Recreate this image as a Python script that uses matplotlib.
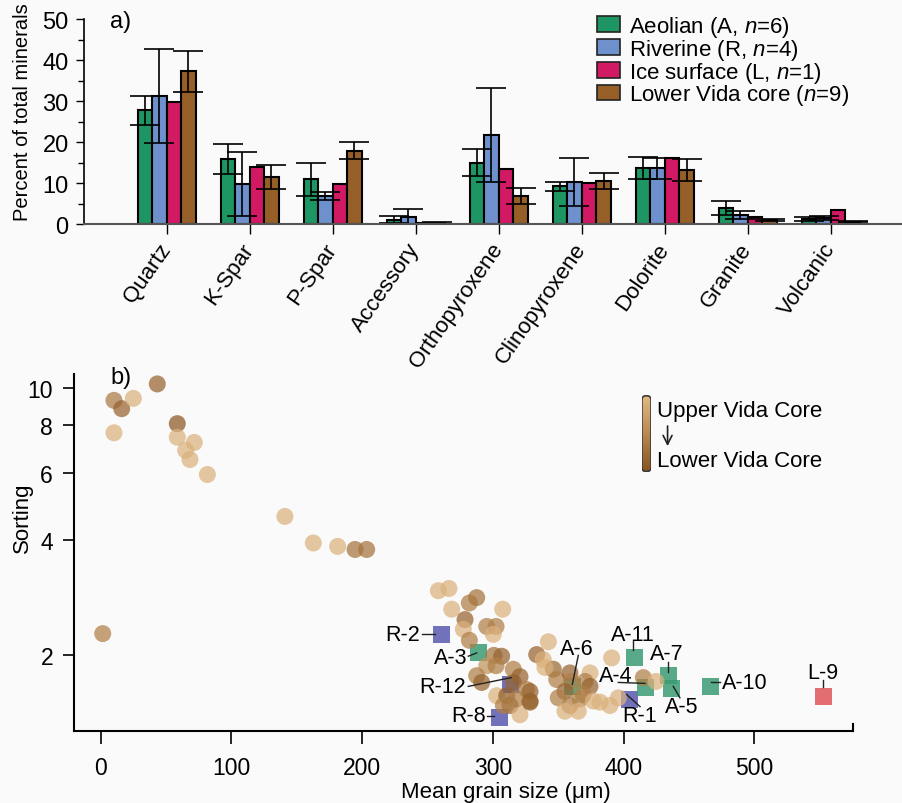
import numpy as np
import matplotlib
matplotlib.use('Agg')
import matplotlib.pyplot as plt
from matplotlib.colors import LinearSegmentedColormap
from matplotlib.patches import FancyBboxPatch
from matplotlib.ticker import NullLocator, MultipleLocator

plt.rcParams['font.family'] = ['Liberation Sans', 'DejaVu Sans']
plt.rcParams['font.size'] = 16
plt.rcParams['mathtext.fontset'] = 'custom'
plt.rcParams['mathtext.rm'] = 'Liberation Sans'
plt.rcParams['mathtext.it'] = 'Liberation Sans:italic'

# ---- a) mineral composition ----
minerals = ['Quartz', 'K-Spar', 'P-Spar', 'Accessory', 'Orthopyroxene',
            'Clinopyroxene', 'Dolorite', 'Granite', 'Volcanic']
group_names = [r'Aeolian (A, $\mathit{n}$=$\mathit{6}$)',
               r'Riverine (R, $\mathit{n}$=$\mathit{4}$)',
               r'Ice surface (L, $\mathit{n}$=$\mathit{1}$)',
               r'Lower Vida core ($\mathit{n}$=$\mathit{9}$)']
aeolian = [27.7, 15.8, 10.9, 1.1, 15.0, 9.2, 13.6, 3.8, 1.2]
aeolian_err = [3.6, 3.6, 4.1, 0.8, 3.3, 1.1, 2.7, 1.7, 0.4]
riverine = [31.3, 9.7, 6.8, 1.8, 21.7, 10.2, 13.6, 2.2, 1.4]
riverine_err = [11.5, 7.8, 1.0, 1.8, 11.4, 5.8, 2.6, 0.9, 0.5]
ice_surface = [29.8, 13.8, 9.8, 0.3, 13.4, 10.0, 16.0, 1.7, 3.4]
lower_core = [37.3, 11.5, 17.9, 0.3, 6.9, 10.5, 13.2, 1.0, 0.6]
lower_core_err = [5.0, 3.0, 2.0, 0.2, 2.0, 2.0, 2.7, 0.3, 0.2]

bar_colors = ['#1e9664', '#6e91cd', '#d21a64', '#965f28']

# ---- b) grain size vs sorting ----
core_size = [1.7, 10.3, 16.2, 25.1, 10.3, 43.4, 58.7, 58.7, 71.7, 65.1, 68.4, 81.7,
             141.0, 162.7, 181.3, 194.6, 203.5,
             258.3, 266.4, 268.5, 282.0, 287.6, 278.7, 277.4, 307.5, 295.3, 302.4,
             300.3, 282.0, 300.8, 306.7, 295.3, 302.4, 315.6, 320.7, 287.6, 291.4,
             302.9, 310.6, 315.6, 325.8, 328.4, 313.1, 308.0, 320.7, 318.2,
             342.4, 333.5, 338.5, 346.2, 339.8, 348.8, 358.9, 360.2, 355.1, 374.2,
             370.4, 374.2, 369.1, 350.0, 358.9, 366.6, 376.8, 381.9, 365.3, 390.8,
             389.5, 395.9, 328.4, 328.4, 415.0, 424.7, 355.1]
core_sorting = [2.28, 9.26, 8.81, 9.37, 7.62, 10.22, 8.05, 7.42, 7.19, 6.86, 6.49, 5.93,
                4.61, 3.93, 3.85, 3.78, 3.78,
                2.95, 2.99, 2.64, 2.74, 2.83, 2.48, 2.34, 2.64, 2.38, 2.38,
                2.27, 2.19, 2.00, 1.99, 1.88, 1.88, 1.84, 1.76, 1.77, 1.70,
                1.57, 1.57, 1.70, 1.63, 1.52, 1.48, 1.48, 1.40, 1.54,
                2.17, 2.01, 1.95, 1.84, 1.86, 1.73, 1.80, 1.71, 1.61, 1.80,
                1.71, 1.66, 1.58, 1.55, 1.48, 1.54, 1.52, 1.51, 1.43, 1.97,
                1.48, 1.55, 1.61, 1.51, 1.75, 1.71, 1.43]
# 0 = top of core, 1 = bottom of core
core_depth = [0.6, 0.65, 0.85, 0.1, 0.1, 0.85, 0.95, 0.1, 0.1, 0.1, 0.1, 0.1,
              0.1, 0.1, 0.1, 0.7, 0.7,
              0.1, 0.1, 0.1, 0.6, 0.7, 0.85, 0.1, 0.1, 0.6, 0.6,
              0.1, 0.6, 0.7, 0.85, 0.4, 0.6, 0.6, 0.85, 0.6, 0.85,
              0.1, 0.9, 0.85, 0.6, 0.85, 0.9, 0.6, 0.1, 0.6,
              0.1, 0.85, 0.1, 0.8, 0.1, 0.6, 0.85, 0.6, 0.85, 0.1,
              0.6, 0.85, 0.6, 0.6, 0.6, 0.6, 0.1, 0.1, 0.1, 0.1,
              0.1, 0.1, 0.85, 0.85, 0.6, 0.1, 0.1]

sample_names = ['R-2', 'R-12', 'R-8', 'R-1',
                'A-3', 'A-6', 'A-11', 'A-7', 'A-4', 'A-5', 'A-10', 'L-9']
sample_size = [260.9, 313.1, 305.4, 404.1,
               288.8, 361.0, 407.9, 434.1, 416.3, 436.9, 466.0, 553.1]
sample_sorting = [2.27, 1.68, 1.38, 1.53,
                  2.03, 1.66, 1.97, 1.77, 1.65, 1.64, 1.66, 1.56]
sample_colors = {'R': '#5a5ab0', 'A': '#3a9b73', 'L': '#e0555a'}

# label placement: text anchor, alignment, leader line ends
label_layout = {
    'R-2': ((244, 2.27), 'right', [(246, 2.27), (256, 2.27)]),
    'A-3': ((280.5, 1.97), 'right', [(281.2, 1.99), (287.6, 2.03)]),
    'R-12': ((279.5, 1.66), 'right', [(281.2, 1.66), (314.0, 1.75)]),
    'R-8': ((294.5, 1.395), 'right', [(295.5, 1.39), (301.0, 1.39)]),
    'A-6': ((364.0, 2.08), 'center', [(365.3, 2.0), (360.7, 1.68)]),
    'A-11': ((407.3, 2.27), 'center', [(407.3, 2.19), (407.3, 2.07)]),
    'A-7': ((432.9, 2.02), 'center', [(434.0, 1.92), (434.0, 1.81)]),
    'A-4': ((393.9, 1.77), 'center', [(395.9, 1.70), (416.3, 1.69)]),
    'A-5': ((444.3, 1.47), 'center', [(437.9, 1.66), (443.0, 1.55)]),
    'A-10': ((474.9, 1.70), 'left', [(466.5, 1.70), (473.6, 1.70)]),
    'R-1': ((412.5, 1.39), 'center', [(402.3, 1.58), (412.5, 1.47)]),
    'L-9': ((552.1, 1.80), 'center', [(552.1, 1.72), (552.1, 1.65)]),
}

bg = '#fafafa'
fig = plt.figure(figsize=(9.03, 8.04), dpi=100, facecolor=bg)

# ================= panel a =================
ax1 = fig.add_axes([0.093, 0.7201, 0.907, 0.255])
ax1.set_facecolor(bg)
x = np.arange(len(minerals))
w = 0.175
series = [(aeolian, aeolian_err), (riverine, riverine_err),
          (ice_surface, None), (lower_core, lower_core_err)]
for i, (vals, err) in enumerate(series):
    ax1.bar(x + (i - 1.5) * w, vals, w, yerr=err, color=bar_colors[i],
            edgecolor='black', linewidth=1.5, label=group_names[i],
            error_kw=dict(ecolor='black', elinewidth=1.2, capsize=11, capthick=1.2),
            zorder=2)

ax1.set_xlim(-0.996, 8.87)
ax1.set_ylim(0, 50)
ax1.yaxis.set_major_locator(MultipleLocator(10))
ax1.yaxis.set_minor_locator(MultipleLocator(5))
ax1.set_xticks(x)
ax1.set_xticklabels(minerals, rotation=55, ha='right', va='center',
                    rotation_mode='anchor', fontsize=16)
ax1.tick_params(axis='y', which='major', length=6, width=1, pad=5, labelsize=17)
ax1.tick_params(axis='y', which='minor', length=4, width=1)
ax1.tick_params(axis='x', length=7, width=1, pad=8)
for s in ['top', 'right']:
    ax1.spines[s].set_visible(False)
ax1.spines['bottom'].set_color('#555555')
ax1.spines['bottom'].set_linewidth(1.5)
ax1.spines['left'].set_linewidth(1.2)
ax1.set_ylabel('Percent of total minerals', fontsize=14.5)
ax1.yaxis.set_label_coords(-0.064, 0.55)
ax1.text(-0.68, 49.6, 'a)', ha='left', va='center', fontsize=17)

fig.legend(loc='upper left', bbox_to_anchor=(597 / 903, 1 - 15 / 804),
           frameon=False, borderpad=0, borderaxespad=0, handlelength=1.05,
           handleheight=0.72, handletextpad=0.4, labelspacing=-0.1,
           fontsize=16)
for h in fig.legends[0].legend_handles:
    h.set_edgecolor('#222222')
    h.set_linewidth(1.2)

# ================= panel b =================
ax2 = fig.add_axes([0.0819, 0.0896, 0.8627, 0.444])
ax2.set_facecolor(bg)
core_cmap = LinearSegmentedColormap.from_list('vida', ['#e3bb86', '#b98a52', '#87531f'])

for name, sx, sy in zip(sample_names, sample_size, sample_sorting):
    ax2.scatter(sx, sy, marker='s', s=150, color=sample_colors[name[0]],
                alpha=0.85, edgecolors='none', zorder=2)

ax2.scatter(core_size, core_sorting, s=150, c=core_depth, cmap=core_cmap,
            vmin=0, vmax=1, alpha=0.72, edgecolors='none', zorder=3)

for name in sample_names:
    (tx, ty), ha, line = label_layout[name]
    ax2.text(tx, ty, name, ha=ha, va='center', fontsize=15.5, zorder=5)
    ax2.plot([line[0][0], line[1][0]], [line[0][1], line[1][1]],
             color='#222222', lw=1.0, zorder=4)

ax2.set_yscale('log')
ax2.set_xlim(-20.3, 575.3)
ax2.set_ylim(1.27, 10.85)
ax2.set_yticks([2, 4, 6, 8, 10])
ax2.set_yticklabels(['2', '4', '6', '8', '10'])
ax2.yaxis.set_minor_locator(NullLocator())
ax2.set_xticks([0, 100, 200, 300, 400, 500])
ax2.tick_params(axis='y', length=8, width=1.2, pad=7, labelsize=16.5)
ax2.tick_params(axis='x', length=9, width=1.2, pad=9, labelsize=16.5)
for s in ['top', 'right']:
    ax2.spines[s].set_visible(False)
ax2.spines['bottom'].set_linewidth(1.5)
ax2.spines['left'].set_linewidth(1.5)
ax2.plot([1, 1], [0, 0.02], transform=ax2.transAxes, color='black',
         lw=1.5, clip_on=False)
ax2.set_xlabel('Mean grain size (μm)', fontsize=16)
ax2.xaxis.set_label_coords(0.555, -0.14)
ax2.set_ylabel('Sorting', fontsize=16)
ax2.yaxis.set_label_coords(-0.053, 0.6)
ax2.text(7.3, 10.67, 'b)', ha='left', va='center', fontsize=17)

# upper -> lower core colour key
ax2.text(0.749, 0.897, 'Upper Vida Core', transform=ax2.transAxes,
         ha='left', va='center', fontsize=16)
ax2.text(0.749, 0.757, 'Lower Vida Core', transform=ax2.transAxes,
         ha='left', va='center', fontsize=16)
ax2.annotate('', xy=(0.762, 0.79), xytext=(0.762, 0.862),
             xycoords='axes fraction',
             arrowprops=dict(arrowstyle='->', color='#222222', lw=1.2))

kax = fig.add_axes([641.7 / 903, 1 - 473.3 / 804, 9.5 / 903, 77.3 / 804])
kax.set_axis_off()
grad = np.linspace(0, 1, 256).reshape(-1, 1)
img = kax.imshow(grad, cmap=core_cmap, aspect='auto', extent=[0, 1, 1, 0])
kax.set_xlim(0, 1)
kax.set_ylim(1, 0)
box = FancyBboxPatch((0.02, 0.01), 0.96, 0.98,
                     boxstyle='round,pad=0,rounding_size=0.45',
                     mutation_aspect=0.12, facecolor='none',
                     edgecolor='#3a3a3a', lw=1.2, transform=kax.transData)
kax.add_patch(box)
img.set_clip_path(box)

fig.savefig('out.png', dpi=100, facecolor=bg)
